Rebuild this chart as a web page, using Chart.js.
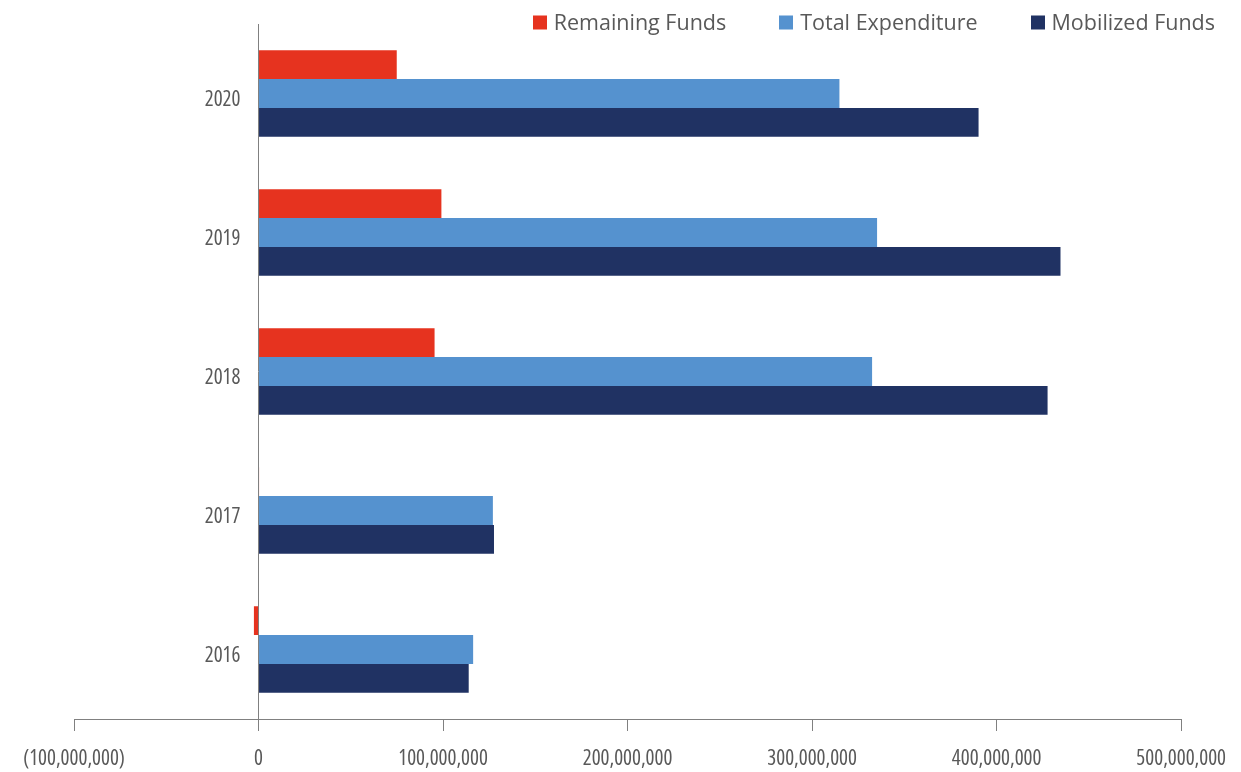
<!DOCTYPE html>
<html>
<head>
<meta charset="utf-8">
<script src="https://cdn.jsdelivr.net/npm/chart.js@4/dist/chart.umd.min.js"></script>
<style>
  html, body { margin: 0; padding: 0; background: #ffffff; }
  #wrap { width: 1241px; height: 772px; position: relative; }
</style>
</head>
<body>
<div id="wrap"><canvas id="c"></canvas></div>
<script>
// ---- data ----
const categories = ['2020', '2019', '2018', '2017', '2016'];
const remainingFunds   = [74.9e6, 99.1e6, 95.4e6, 0.3e6, -2.5e6];
const totalExpenditure = [314.8e6, 335.2e6, 332.5e6, 127.0e6, 116.3e6];
const mobilizedFunds   = [390.2e6, 434.6e6, 427.6e6, 127.6e6, 113.9e6];
const seriesNames = ['Remaining Funds', 'Total Expenditure', 'Mobilized Funds'];
const xMin = -100e6, xMax = 500e6, xStep = 100e6;

const FAMILY = "'Open Sans', 'Noto Sans', sans-serif";
const TEXT = '#595959';
const AXIS = '#808080';
const colors = ['#E6331F', '#5592CF', '#203263'];

function fmt(v) {
  const s = Math.abs(v).toLocaleString('en-US');
  return v < 0 ? '(' + s + ')' : s;
}

const legendPlugin = {
  id: 'customLegend',
  afterDraw(chart) {
    const ctx = chart.ctx;
    ctx.save();
    ctx.font = "21.5px " + FAMILY;
    ctx.textBaseline = 'middle';
    ctx.textAlign = 'left';
    const box = 14, gap = 7, spacing = 53, right = 1215, cy = 22.5;
    const items = chart.data.datasets.map(d => ({ label: d.label, color: d.backgroundColor, w: ctx.measureText(d.label).width }));
    let total = 0;
    items.forEach((it, i) => { total += box + gap + it.w + (i < items.length - 1 ? spacing : 0); });
    let x = right - total;
    items.forEach(it => {
      ctx.fillStyle = it.color;
      ctx.fillRect(Math.round(x), cy - box / 2, box, box);
      ctx.fillStyle = TEXT;
      ctx.fillText(it.label, x + box + gap, cy + 1);
      x += box + gap + it.w + spacing;
    });
    ctx.restore();
  }
};

// y labels sit a little left of the zero line (value offset, ~18px)
const yLabelOffset = -9.8e6;

new Chart(document.getElementById('c'), {
  type: 'bar',
  data: {
    labels: categories,
    datasets: [
      { label: seriesNames[0], data: remainingFunds, backgroundColor: colors[0] },
      { label: seriesNames[1], data: totalExpenditure, backgroundColor: colors[1] },
      { label: seriesNames[2], data: mobilizedFunds, backgroundColor: colors[2] }
    ]
  },
  options: {
    indexAxis: 'y',
    responsive: true,
    maintainAspectRatio: false,
    animation: false,
    categoryPercentage: 0.624,
    barPercentage: 1.0,
    layout: { padding: { top: 24, left: 74, right: 43, bottom: 0 } },
    plugins: {
      legend: { display: false },
      tooltip: { enabled: false }
    },
    scales: {
      x: {
        type: 'linear',
        min: xMin,
        max: xMax,
        afterFit: s => { s.height = 53; },
        ticks: {
          stepSize: xStep,
          color: TEXT,
          font: { family: FAMILY, size: 21, weight: 'condensed' },
          padding: 15,
          maxRotation: 0,
          callback: v => fmt(v)
        },
        grid: {
          display: true,
          drawOnChartArea: true,
          drawTicks: true,
          tickLength: 12,
          color: c => (c.tick && c.tick.value === 0) ? AXIS : 'rgba(0,0,0,0)',
          tickColor: AXIS,
          lineWidth: 1
        },
        border: { display: true, color: AXIS, width: 1 }
      },
      y: {
        type: 'category',
        position: { x: yLabelOffset },
        ticks: {
          color: TEXT,
          font: { family: FAMILY, size: 21, weight: 'condensed' },
          padding: 0,
          labelOffset: 7
        },
        grid: { display: false },
        border: { display: false }
      }
    }
  },
  plugins: [legendPlugin]
});
</script>
</body>
</html>
